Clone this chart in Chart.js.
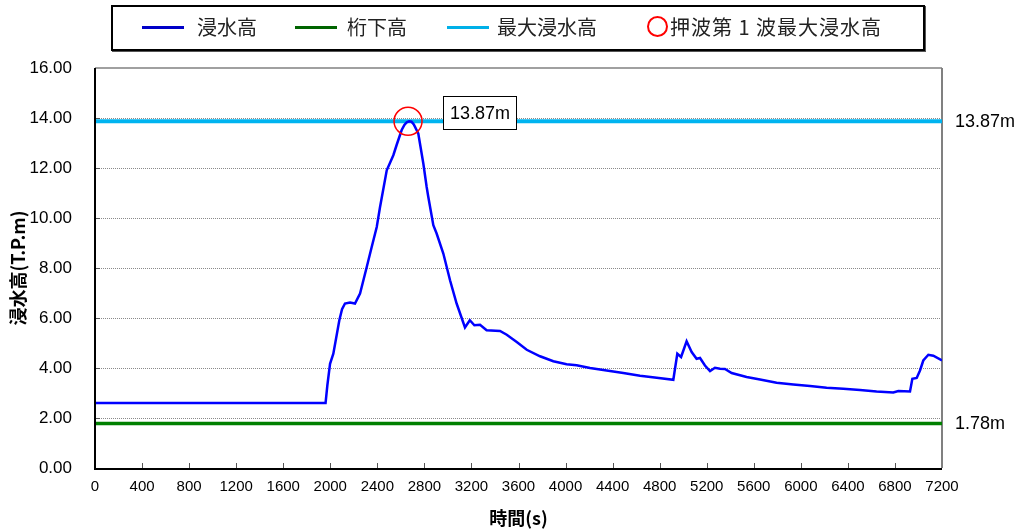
<!DOCTYPE html>
<html>
<head>
<meta charset="utf-8">
<script src="https://cdn.jsdelivr.net/npm/chart.js@4.4.1/dist/chart.umd.min.js"></script>
<style>
  html, body { margin: 0; padding: 0; background: #fff; overflow: hidden; }
  #wrap { position: relative; width: 1022px; height: 531px; }
  #c { position: absolute; left: 0; top: 0; }
  #legend { position: absolute; left: 111px; top: 5px; width: 810px; height: 42px;
    border: 2px solid #000; box-shadow: 1px 1px 0 #555; background: #fff;
    font-family: "Noto Sans CJK JP", sans-serif; font-size: 20px; color: #222; }
  #legend .ln { position: absolute; top: 19px; height: 3px; width: 42px; }
  #legend .tx { position: absolute; top: 5px; line-height: 30px; white-space: nowrap; }
  #legend .cir { position: absolute; top: 9px; border: 2px solid #f00; border-radius: 50%; box-sizing: border-box; width: 21px; height: 21px; }
</style>
</head>
<body>
<div id="wrap">
<canvas id="c" width="1022" height="531"></canvas>
<div id="legend">
  <div class="ln" style="left:29px;background:#0000c8"></div><div class="tx" style="left:84px">浸水高</div>
  <div class="ln" style="left:182px;background:#006400"></div><div class="tx" style="left:234px">桁下高</div>
  <div class="ln" style="left:334px;background:#00b0e8"></div><div class="tx" style="left:384px">最大浸水高</div>
  <div class="cir" style="left:534px"></div><div class="tx" style="left:557px;letter-spacing:1px">押波第 1 波最大浸水高</div>
</div>
</div>
<script>
// ---- data ----
const times = [0, 1960, 1975, 1998, 2026, 2050, 2077, 2100, 2125, 2168, 2210, 2253, 2310, 2350, 2395, 2423, 2480, 2536, 2564, 2607, 2630, 2650, 2670, 2690, 2710, 2748, 2791, 2819, 2833, 2876, 2904, 2961, 3018, 3074, 3145, 3186, 3225, 3273, 3329, 3443, 3500, 3585, 3670, 3783, 3896, 4009, 4094, 4208, 4349, 4491, 4633, 4775, 4916, 4950, 4982, 5029, 5072, 5114, 5143, 5185, 5228, 5270, 5313, 5355, 5412, 5539, 5653, 5794, 5936, 6078, 6219, 6361, 6503, 6644, 6786, 6829, 6928, 6948, 6985, 7013, 7041, 7084, 7126, 7200];
const levels = [2.60, 2.60, 3.30, 4.17, 4.57, 5.20, 5.91, 6.35, 6.58, 6.62, 6.58, 6.98, 8.04, 8.80, 9.64, 10.44, 11.91, 12.51, 12.92, 13.52, 13.72, 13.83, 13.87, 13.85, 13.74, 13.38, 12.18, 11.25, 10.85, 9.71, 9.38, 8.58, 7.51, 6.58, 5.62, 5.91, 5.71, 5.73, 5.51, 5.48, 5.33, 5.04, 4.73, 4.47, 4.27, 4.15, 4.11, 4.00, 3.90, 3.80, 3.69, 3.61, 3.53, 4.57, 4.44, 5.07, 4.64, 4.37, 4.40, 4.10, 3.88, 4.01, 3.97, 3.96, 3.80, 3.64, 3.54, 3.41, 3.34, 3.28, 3.21, 3.17, 3.12, 3.06, 3.02, 3.08, 3.06, 3.57, 3.60, 3.90, 4.30, 4.53, 4.49, 4.30];
const maxLevel = 13.87;
const maxTime = 2661;
const girderLevel = 1.78;
const xRange = [0, 7200];
const xStep = 400;
const yRange = [0, 16];
const yStep = 2;
const seriesNames = ["浸水高", "桁下高", "最大浸水高", "押波第１波最大浸水高"];
const xTitle = "時間(s)";
const yTitle = "浸水高(T.P.m)";
const rightLabels = [maxLevel, girderLevel];

const seriesData = times.map((t, i) => ({ x: t, y: levels[i] }));

const framePlugin = {
  id: 'frame',
  beforeDatasetsDraw(chart) {
    const { ctx, chartArea: a, scales: { x, y } } = chart;
    ctx.save();
    ctx.strokeStyle = '#8a8a8a';
    ctx.lineWidth = 1;
    ctx.setLineDash([1, 1]);
    for (let v = yRange[0] + yStep; v < yRange[1]; v += yStep) {
      const py = Math.round(y.getPixelForValue(v)) + 0.5;
      ctx.beginPath(); ctx.moveTo(a.left, py); ctx.lineTo(a.right, py); ctx.stroke();
    }
    ctx.setLineDash([]);
    ctx.strokeStyle = '#808080';
    ctx.lineWidth = 1.5;
    ctx.beginPath(); ctx.moveTo(a.left, a.top); ctx.lineTo(a.right, a.top); ctx.stroke();
    ctx.lineWidth = 2;
    ctx.beginPath(); ctx.moveTo(a.right, a.top); ctx.lineTo(a.right, a.bottom); ctx.stroke();
    ctx.strokeStyle = '#555';
    ctx.lineWidth = 1;
    for (let v = xRange[0] + xStep; v < xRange[1]; v += xStep) {
      const px = Math.round(x.getPixelForValue(v)) + 0.5;
      ctx.beginPath(); ctx.moveTo(px, a.bottom); ctx.lineTo(px, a.bottom - 5); ctx.stroke();
    }
    for (let v = yRange[0] + yStep; v < yRange[1]; v += yStep) {
      const py = Math.round(y.getPixelForValue(v)) + 0.5;
      ctx.beginPath(); ctx.moveTo(a.left, py); ctx.lineTo(a.left + 5, py); ctx.stroke();
    }
    ctx.restore();
  },
  afterDatasetsDraw(chart) {
    const { ctx, chartArea: a } = chart;
    ctx.save();
    ctx.strokeStyle = '#000';
    ctx.lineWidth = 2;
    ctx.beginPath(); ctx.moveTo(a.left, a.top); ctx.lineTo(a.left, a.bottom + 1); ctx.lineTo(a.right, a.bottom + 1); ctx.stroke();
    ctx.restore();
  },
  afterDraw(chart) {
    const { ctx, chartArea: a, scales: { x, y } } = chart;
    ctx.save();
    ctx.fillStyle = '#000';
    ctx.font = '18px "Liberation Sans", Arial, sans-serif';
    ctx.textAlign = 'left';
    ctx.textBaseline = 'middle';
    rightLabels.forEach(v => {
      ctx.fillText(v.toFixed(2) + 'm', a.right + 13, y.getPixelForValue(v) + 1);
    });
    const px = x.getPixelForValue(maxTime) + 35;
    const py = y.getPixelForValue(maxLevel);
    const bx = Math.round(px) + 0.5, by = Math.round(py - 25) + 0.5, bw = 73, bh = 33;
    ctx.fillStyle = '#fff';
    ctx.fillRect(bx, by, bw, bh);
    ctx.strokeStyle = '#000';
    ctx.lineWidth = 1;
    ctx.strokeRect(bx, by, bw, bh);
    ctx.fillStyle = '#000';
    ctx.textAlign = 'center';
    ctx.fillText(maxLevel.toFixed(2) + 'm', bx + bw / 2, by + bh / 2 + 1);
    ctx.restore();
  }
};

new Chart(document.getElementById('c'), {
  type: 'line',
  data: {
    datasets: [
      { label: seriesNames[3], type: 'scatter', data: [{ x: maxTime, y: maxLevel }],
        pointRadius: 14, pointHoverRadius: 14, borderColor: '#ff0000', borderWidth: 1.5,
        backgroundColor: 'rgba(0,0,0,0)', order: 0 },
      { label: seriesNames[0], data: seriesData, borderColor: '#0000ff', borderWidth: 2.5,
        pointRadius: 0, tension: 0, fill: false, order: 1 },
      { label: seriesNames[2], data: xRange.map(t => ({ x: t, y: maxLevel })), borderColor: '#00b4f0',
        borderWidth: 4, pointRadius: 0, fill: false, order: 2 },
      { label: seriesNames[1], data: xRange.map(t => ({ x: t, y: girderLevel })), borderColor: '#008000',
        borderWidth: 3.5, pointRadius: 0, fill: false, order: 3 }
    ]
  },
  options: {
    responsive: false,
    animation: false,
    devicePixelRatio: 1,
    layout: { padding: { left: 0, top: 68, right: 80, bottom: 0 } },
    plugins: { legend: { display: false }, tooltip: { enabled: false } },
    events: [],
    scales: {
      x: {
        type: 'linear', min: xRange[0], max: xRange[1],
        grid: { display: false, drawTicks: false },
        border: { display: false },
        ticks: { stepSize: xStep, padding: 10, maxRotation: 0, color: '#000',
          callback: v => String(v),
          font: { size: 15, family: '"Liberation Sans", Arial, sans-serif' } },
        title: { display: true, text: xTitle, color: '#000', padding: { top: 0, bottom: 2 },
          font: { size: 18, weight: 'bold', family: '"Noto Sans CJK JP", sans-serif' } },
        afterFit: s => { s.height = 63; }
      },
      y: {
        min: yRange[0], max: yRange[1],
        grid: { display: false, drawTicks: false },
        border: { display: false },
        ticks: { stepSize: yStep, padding: 23, color: '#000',
          callback: v => Number(v).toFixed(2),
          font: { size: 17, family: '"Liberation Sans", Arial, sans-serif' } },
        title: { display: true, text: yTitle, color: '#000', padding: { top: 7, bottom: 0 },
          font: { size: 18, weight: 'bold', family: '"Noto Sans CJK JP", sans-serif' } },
        afterFit: s => { s.width = 95; }
      }
    }
  },
  plugins: [framePlugin]
});
</script>
</body>
</html>
